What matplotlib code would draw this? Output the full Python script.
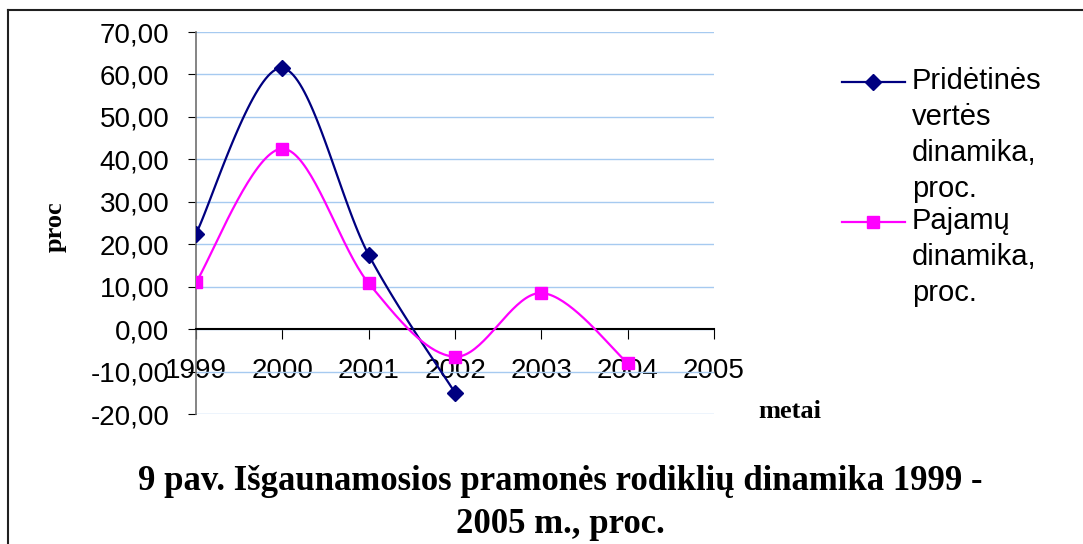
import numpy as np
import matplotlib
matplotlib.use("Agg")
import matplotlib.pyplot as plt
from matplotlib.lines import Line2D
from matplotlib.ticker import FuncFormatter

# data
years_pv = [1999, 2000, 2001, 2002]
pridetines = [22.5, 61.5, 17.5, -15.0]
years_pj = [1999, 2000, 2001, 2002, 2003, 2004]
pajamu = [11.0, 42.5, 10.8, -6.5, 8.5, -8.0]
year_ticks = [1999, 2000, 2001, 2002, 2003, 2004, 2005]
y_ticks = [-20, -10, 0, 10, 20, 30, 40, 50, 60, 70]

label_pv = "Pridėtinės\nvertės\ndinamika,\nproc."
label_pj = "Pajamų\ndinamika,\nproc."
title = "9 pav. Išgaunamosios pramonės rodiklių dinamika 1999 -\n2005 m., proc."

navy = "#000080"
magenta = "#FF00FF"
grid_col = "#A6CAF0"


# Excel-like smoothed line (bezier through the points)
def smooth(xs, ys, n=40):
    p = np.column_stack([xs, ys]).astype(float)
    m = len(p)
    out = [p[0]]
    for i in range(m - 1):
        p0 = p[max(i - 1, 0)]
        p1 = p[i]
        p2 = p[i + 1]
        p3 = p[min(i + 2, m - 1)]
        c1 = p1 + (p2 - p0) / 6.0
        c2 = p2 - (p3 - p1) / 6.0
        t = np.linspace(0, 1, n)[1:, None]
        seg = ((1 - t) ** 3) * p1 + 3 * ((1 - t) ** 2) * t * c1 + 3 * (1 - t) * t ** 2 * c2 + t ** 3 * p2
        out.extend(seg)
    out = np.array(out)
    return out[:, 0], out[:, 1]


plt.rcParams['font.family'] = ['Liberation Sans', 'DejaVu Sans']

fig = plt.figure(figsize=(10.83, 5.44), dpi=100)
ax = fig.add_axes([196 / 1083, 1 - 414 / 544, (714 - 196) / 1083, (414 - 32) / 544])

sx, sy = smooth(years_pv, pridetines)
ax.plot(sx, sy, color=navy, lw=1.6, zorder=3)
ax.plot(years_pv, pridetines, ls="none", marker="D", ms=8, color=navy, zorder=4)

sx, sy = smooth(years_pj, pajamu)
ax.plot(sx, sy, color=magenta, lw=1.6, zorder=3)
ax.plot(years_pj, pajamu, ls="none", marker="s", ms=8, color=magenta, zorder=4)

ax.set_xlim(1999, 2005)
ax.set_ylim(-20, 70)
ax.set_xticks(year_ticks)
ax.set_yticks(y_ticks)
ax.yaxis.set_major_formatter(FuncFormatter(lambda v, p: ("%.2f" % v).replace(".", ",")))
ax.grid(axis="y", color=grid_col, lw=1)
ax.set_axisbelow(True)

ax.spines["top"].set_visible(False)
ax.spines["right"].set_visible(False)
ax.spines["bottom"].set_position(("data", 0))
ax.spines["bottom"].set_color("black")
ax.spines["bottom"].set_linewidth(1.5)
ax.spines["left"].set_color("#707070")
ax.spines["left"].set_linewidth(1.2)
ax.tick_params(axis="x", direction="out", length=7, pad=14, labelsize=20, color="black")
ax.tick_params(axis="y", direction="out", length=6, pad=13, labelsize=20, color="black")

fig.text(55 / 1083, 1 - 227 / 544, "proc", rotation=90, ha="center", va="center",
         family="Liberation Serif", weight="bold", fontsize=19)
fig.text(790 / 1083, 1 - 412 / 544, "metai", ha="center", va="center",
         family="Liberation Serif", weight="bold", fontsize=19)
fig.text(560 / 1083, 1 - 503 / 544, title, ha="center", va="center",
         family="Liberation Serif", weight="bold", fontsize=25, linespacing=1.42)

# legend drawn by hand so the handle sits on the first line of text
for y, col, mk, lab in [(82, navy, "D", label_pv), (222, magenta, "s", label_pj)]:
    fy = 1 - y / 544
    fig.add_artist(Line2D([842 / 1083, 905 / 1083], [fy, fy], color=col, lw=1.6,
                          transform=fig.transFigure))
    fig.add_artist(Line2D([873 / 1083], [fy], color=col, marker=mk, ms=8, ls="none",
                          transform=fig.transFigure))
    fig.text(912 / 1083, fy + 15 / 544, lab, ha="left", va="top", fontsize=21,
             linespacing=1.36)

# outer frame (top and left edges visible in the picture)
fig.add_artist(Line2D([8 / 1083, 1.0], [1 - 10 / 544, 1 - 10 / 544], color="#202020", lw=1.5,
                      transform=fig.transFigure))
fig.add_artist(Line2D([8 / 1083, 8 / 1083], [0, 1 - 10 / 544], color="#202020", lw=1.5,
                      transform=fig.transFigure))

fig.savefig("out.png", dpi=100)
